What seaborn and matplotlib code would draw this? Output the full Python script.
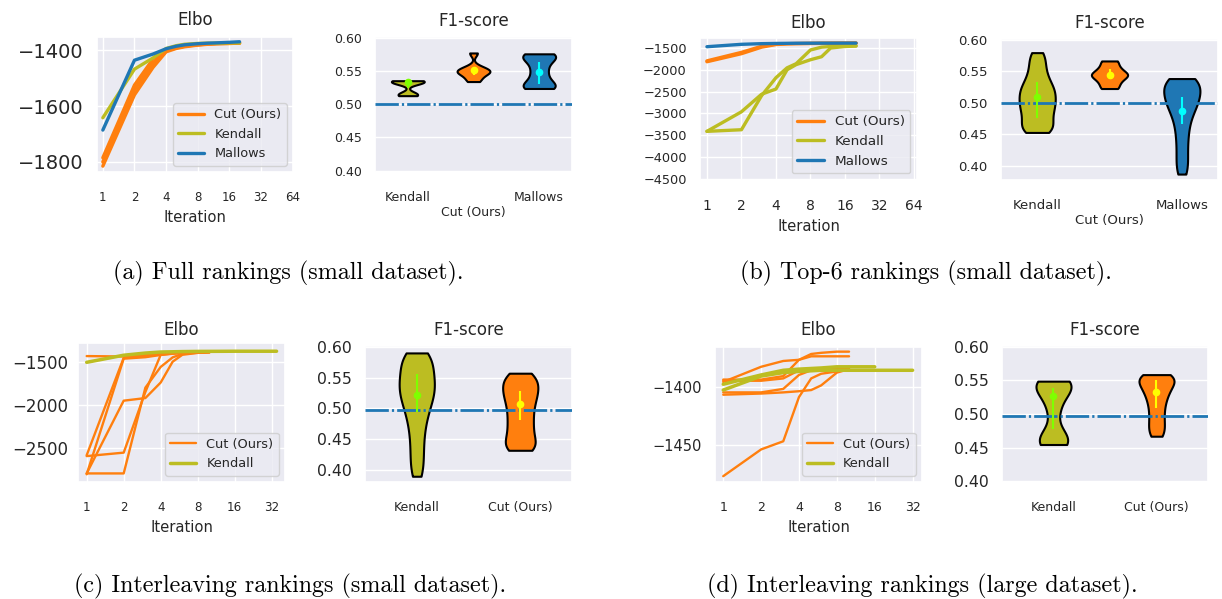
import numpy as np
import pandas as pd
import matplotlib
matplotlib.use("Agg")
import matplotlib.pyplot as plt
import seaborn as sns

# ---------------- data ----------------
METHODS = ["Cut (Ours)", "Kendall", "Mallows"]
F1_ORDER_3 = ["Kendall", "Cut (Ours)", "Mallows"]
F1_ORDER_2 = ["Kendall", "Cut (Ours)"]

iter_ticks = [1, 2, 4, 8, 16, 32, 64]
iter_tick_labels = ["1", "2", "4", "8", "16", "32", "64"]
iter_ticks_32 = [1, 2, 4, 8, 16, 32]
iter_tick_labels_32 = ["1", "2", "4", "8", "16", "32"]

# (a) Full rankings, small dataset
iters_a = [1, 2, 3, 4, 5, 6, 8, 10, 12, 16, 20]
elbo_a_cut_1 = [-1815, -1560, -1462, -1406, -1394, -1388, -1382, -1379, -1377, -1376, -1375]
elbo_a_cut_2 = [-1800, -1542, -1447, -1402, -1392, -1386, -1381, -1378, -1377, -1376, -1375]
elbo_a_cut_3 = [-1785, -1525, -1432, -1398, -1390, -1385, -1380, -1378, -1376, -1375, -1374]
elbo_a_kendall = [-1642, -1468, -1428, -1394, -1384, -1379, -1376, -1375, -1375, -1374, -1374]
elbo_a_mallows = [-1686, -1436, -1414, -1395, -1386, -1381, -1377, -1375, -1374, -1372, -1370]
yticks_a = [-1800, -1600, -1400]
ytick_labels_a = ["\u22121800", "\u22121600", "\u22121400"]

f1_a_kendall = [0.5353, 0.535, 0.534, 0.533, 0.532, 0.516, 0.514, 0.5128]
f1_a_cut = [0.577, 0.556, 0.552, 0.550, 0.548, 0.546, 0.540, 0.534]
f1_a_mallows = [0.5757, 0.574, 0.571, 0.565, 0.555, 0.545, 0.535, 0.528, 0.525, 0.5236]
f1_a_center = [0.533, 0.5518, 0.549]
f1_a_low = [0.524, 0.5435, 0.530]
f1_a_high = [0.536, 0.556, 0.5635]

# (b) Top-6 rankings, small dataset
iters_b = [1, 2, 3, 4, 5, 6, 8, 10, 12, 16, 20]
elbo_b_cut_1 = [-1815, -1630, -1480, -1420, -1405, -1400, -1396, -1394, -1392, -1390, -1388]
elbo_b_cut_2 = [-1795, -1600, -1460, -1410, -1400, -1396, -1393, -1391, -1390, -1389, -1388]
elbo_b_kendall_1 = [-3413, -3376, -2592, -2182, -1955, -1860, -1545, -1480, -1465, -1455, -1450]
elbo_b_kendall_2 = [-3413, -2964, -2560, -2442, -2000, -1881, -1769, -1700, -1500, -1465, -1455]
elbo_b_mallows = [-1470, -1415, -1400, -1395, -1392, -1390, -1389, -1388, -1388, -1387, -1387]
yticks_b = [-4500, -4000, -3500, -3000, -2500, -2000, -1500]
ytick_labels_b = ["\u22124500", "\u22124000", "\u22123500", "\u22123000", "\u22122500", "\u22122000", "\u22121500"]

f1_b_kendall = [0.5794, 0.571, 0.562, 0.553, 0.545, 0.538, 0.532, 0.527, 0.523, 0.519, 0.515, 0.511,
                0.507, 0.503, 0.499, 0.495, 0.491, 0.487, 0.482, 0.477, 0.472, 0.467, 0.462, 0.458,
                0.455, 0.4529]
f1_b_cut = [0.5662, 0.556, 0.548, 0.544, 0.540, 0.532, 0.5225]
f1_b_mallows = [0.5383, 0.537, 0.535, 0.532, 0.528, 0.524, 0.520, 0.516, 0.512, 0.508, 0.504, 0.500,
                0.496, 0.491, 0.485, 0.478, 0.470, 0.460, 0.449, 0.437, 0.424, 0.411, 0.399, 0.3869]
f1_b_center = [0.5092, 0.5445, 0.487]
f1_b_low = [0.475, 0.538, 0.466]
f1_b_high = [0.533, 0.554, 0.509]

# (c) Interleaving rankings, small dataset
iters_c_cut = [1, 2, 3, 4, 5, 6, 8, 10]
elbo_c_cut_1 = [-1435, -1440, -1420, -1402, -1396, -1393, -1390, -1388]
elbo_c_cut_2 = [-2580, -1455, -1440, -1412, -1402, -1396, -1391, -1388]
elbo_c_cut_3 = [-2800, -1465, -1448, -1422, -1408, -1398, -1392, -1389]
elbo_c_cut_4 = [-2790, -1950, -1920, -1740, -1500, -1420, -1398, -1390]
elbo_c_cut_5 = [-2790, -2790, -1800, -1560, -1450, -1410, -1396, -1390]
elbo_c_cut_6 = [-2590, -2550, -1850, -1420, -1405, -1398, -1392, -1389]
iters_c_kendall = [1, 2, 3, 4, 6, 8, 12, 16, 24, 35]
elbo_c_kendall = [-1507, -1425, -1400, -1388, -1383, -1381, -1380, -1379, -1379, -1379]
yticks_c = [-2500, -2000, -1500]
ytick_labels_c = ["\u22122500", "\u22122000", "\u22121500"]

f1_c_kendall = [0.5898, 0.587, 0.583, 0.577, 0.571, 0.565, 0.559, 0.553, 0.548, 0.543, 0.538, 0.533,
                0.528, 0.523, 0.518, 0.512, 0.506, 0.499, 0.491, 0.482, 0.472, 0.460, 0.447, 0.433,
                0.419, 0.405, 0.3903]
f1_c_cut = [0.557, 0.553, 0.548, 0.543, 0.538, 0.533, 0.528, 0.523, 0.518, 0.512, 0.506, 0.499,
            0.492, 0.485, 0.478, 0.471, 0.464, 0.457, 0.450, 0.444, 0.438, 0.435, 0.4323]
f1_c_center = [0.521, 0.5075]
f1_c_low = [0.4945, 0.482]
f1_c_high = [0.555, 0.529]

# (d) Interleaving rankings, large dataset
iters_d_cut = [1, 2, 3, 4, 5, 6, 8, 10]
elbo_d_cut_1 = [-1396, -1383, -1378, -1377, -1372, -1371, -1370, -1370]
elbo_d_cut_2 = [-1394, -1394, -1391, -1377, -1374, -1374, -1374, -1374]
elbo_d_cut_3 = [-1395, -1395, -1393, -1386, -1385, -1385, -1384, -1384]
elbo_d_cut_4 = [-1405, -1405, -1402, -1390, -1386, -1386, -1386, -1385]
elbo_d_cut_5 = [-1407, -1406, -1405, -1404, -1403, -1399, -1388, -1385]
elbo_d_cut_6 = [-1477, -1454, -1447, -1409, -1393, -1389, -1387, -1383]
iters_d_kendall_1 = [1, 2, 3, 4, 6, 8, 12, 16]
elbo_d_kendall_1 = [-1398, -1390, -1386, -1385, -1384, -1383, -1383, -1383]
iters_d_kendall_2 = [1, 2, 3, 4, 6, 8, 12, 16, 24, 32]
elbo_d_kendall_2 = [-1403, -1391, -1388, -1387, -1386, -1386, -1386, -1386, -1386, -1386]
yticks_d = [-1450, -1400]
ytick_labels_d = ["\u22121450", "\u22121400"]

f1_d_kendall = [0.5488, 0.547, 0.543, 0.536, 0.525, 0.505, 0.475, 0.462, 0.456, 0.4547]
f1_d_cut = [0.5585, 0.557, 0.555, 0.552, 0.549, 0.545, 0.541, 0.536, 0.531, 0.525, 0.518, 0.510,
            0.501, 0.492, 0.483, 0.475, 0.467]
f1_d_center = [0.5264, 0.533]
f1_d_low = [0.4775, 0.5085]
f1_d_high = [0.539, 0.550]

f1_yticks = [0.40, 0.45, 0.50, 0.55, 0.60]
f1_ytick_labels = ["0.40", "0.45", "0.50", "0.55", "0.60"]
baseline_ab = 0.50
baseline_cd = 0.497

captions = ["(a) Full rankings (small dataset).",
            "(b) Top-6 rankings (small dataset).",
            "(c) Interleaving rankings (small dataset).",
            "(d) Interleaving rankings (large dataset)."]

# ---------------- style ----------------
sns.set_theme(style="darkgrid")
plt.rcParams['font.family'] = ['DejaVu Sans']

COLORS = {"Cut (Ours)": "#ff7f0e", "Kendall": "#bcbd22", "Mallows": "#1f77b4"}
INNER = {"Cut (Ours)": "#ffff00", "Kendall": "#7fff00", "Mallows": "#00ffff"}

W, H = 1222, 599
fig = plt.figure(figsize=(W / 100, H / 100), dpi=100)


def px_axes(x0, y0, x1, y1):
    return fig.add_axes([x0 / W, 1 - y1 / H, (x1 - x0) / W, (y1 - y0) / H])


def elbo_panel(ax, runs, xlim, ylim, yticks, ylabels, xticks, xlabels,
               yfs, xfs, title_pad=8, legend_fs=9.3):
    seen = set()
    for method, its, vals, lw in runs:
        lab = method if method not in seen else None
        seen.add(method)
        sns.lineplot(x=its, y=vals, color=COLORS[method], lw=lw, label=lab,
                     estimator=None, errorbar=None, sort=False, ax=ax)
    ax.set_xscale('log', base=2)
    ax.set_xticks(xticks)
    ax.set_xticklabels(xlabels, fontsize=xfs)
    ax.set_xlim(*xlim)
    ax.set_yticks(yticks)
    ax.set_yticklabels(ylabels, fontsize=yfs)
    ax.set_ylim(*ylim)
    ax.tick_params(axis="x", pad=8)
    ax.set_xlabel("Iteration", fontsize=10.6)
    ax.set_ylabel("")
    ax.set_title("Elbo", fontsize=12, pad=title_pad)
    ax.legend(loc="lower right", fontsize=legend_fs)


def f1_panel(ax, order, samples, centers, lows, highs, baseline, ylim, width,
             bw, yfs, xfs, stagger):
    names, vals = [], []
    for m, s in zip(order, samples):
        names += [m] * len(s)
        vals += list(s)
    df = pd.DataFrame({"method": names, "f1": vals})
    sns.violinplot(data=df, x="method", y="f1", hue="method", order=order,
                   hue_order=order, palette=COLORS, cut=0, inner=None,
                   width=width, linewidth=1.5, linecolor="black",
                   density_norm="width", bw_adjust=bw, saturation=1,
                   legend=False, ax=ax)
    ax.axhline(baseline, color="#1f77b4", lw=2, ls=(0, (8.4, 1.1, 0.8, 1.1)), zorder=3)
    for i, m in enumerate(order):
        ax.vlines(i, lows[i], highs[i], color=INNER[m], lw=1.5, zorder=4)
        ax.plot([i], [centers[i]], "o", color=INNER[m], ms=4.5, zorder=5)
    ax.set_yticks(f1_yticks)
    ax.set_yticklabels(f1_ytick_labels, fontsize=yfs)
    ax.set_ylim(*ylim)
    ax.set_xlim(-0.5, len(order) - 0.5)
    labels = [("\n" + m) if (stagger and m == "Cut (Ours)") else m for m in order]
    ax.set_xticks(range(len(order)))
    ax.set_xticklabels(labels, fontsize=xfs)
    ax.tick_params(axis="x", pad=8)
    ax.set_xlabel("")
    ax.set_ylabel("")
    ax.set_title("F1-score", fontsize=12, pad=8)


# ---- (a)
ax = px_axes(97, 37, 293, 172)
elbo_panel(ax, [("Cut (Ours)", iters_a, elbo_a_cut_1, 2.4),
                ("Cut (Ours)", iters_a, elbo_a_cut_2, 2.4),
                ("Cut (Ours)", iters_a, elbo_a_cut_3, 2.4),
                ("Kendall", iters_a, elbo_a_kendall, 2.4),
                ("Mallows", iters_a, elbo_a_mallows, 2.4)],
           (0.88, 64.5), (-1836, -1353), yticks_a, ytick_labels_a,
           iter_ticks, iter_tick_labels, 14, 8.5, title_pad=8.5)
ax = px_axes(375, 37, 572, 172)
f1_panel(ax, F1_ORDER_3, [f1_a_kendall, f1_a_cut, f1_a_mallows],
         f1_a_center, f1_a_low, f1_a_high, baseline_ab, (0.398, 0.601), 0.5,
         0.6, 9, 9, True)

# ---- (b)
ax = px_axes(700, 38, 917, 180)
elbo_panel(ax, [("Cut (Ours)", iters_b, elbo_b_cut_1, 2.4),
                ("Cut (Ours)", iters_b, elbo_b_cut_2, 2.4),
                ("Kendall", iters_b, elbo_b_kendall_1, 2.4),
                ("Kendall", iters_b, elbo_b_kendall_2, 2.4),
                ("Mallows", iters_b, elbo_b_mallows, 2.4)],
           (0.87, 68), (-4530, -1270), yticks_b, ytick_labels_b,
           iter_ticks, iter_tick_labels, 9.3, 10, title_pad=7.5, legend_fs=9.7)
ax = px_axes(1001, 39, 1218, 180)
f1_panel(ax, F1_ORDER_3, [f1_b_kendall, f1_b_cut, f1_b_mallows],
         f1_b_center, f1_b_low, f1_b_high, baseline_ab, (0.3775, 0.601), 0.5,
         0.6, 9.5, 9.5, True)

# ---- (c)
ax = px_axes(78, 343, 285, 482)
elbo_panel(ax, [("Cut (Ours)", iters_c_cut, elbo_c_cut_1, 1.7),
                ("Cut (Ours)", iters_c_cut, elbo_c_cut_2, 1.7),
                ("Cut (Ours)", iters_c_cut, elbo_c_cut_3, 1.7),
                ("Cut (Ours)", iters_c_cut, elbo_c_cut_4, 1.7),
                ("Cut (Ours)", iters_c_cut, elbo_c_cut_5, 1.7),
                ("Cut (Ours)", iters_c_cut, elbo_c_cut_6, 1.7),
                ("Kendall", iters_c_kendall, elbo_c_kendall, 2.5)],
           (0.85, 41), (-2889, -1284), yticks_c, ytick_labels_c,
           iter_ticks_32, iter_tick_labels_32, 12, 8.6, title_pad=6)
ax.tick_params(axis="y", pad=1)
ax = px_axes(365, 346, 572, 482)
f1_panel(ax, F1_ORDER_2, [f1_c_kendall, f1_c_cut],
         f1_c_center, f1_c_low, f1_c_high, baseline_cd, (0.381, 0.601), 0.34,
         0.6, 11.3, 9, False)

# ---- (d)
ax = px_axes(715, 347, 922, 482)
elbo_panel(ax, [("Cut (Ours)", iters_d_cut, elbo_d_cut_1, 1.7),
                ("Cut (Ours)", iters_d_cut, elbo_d_cut_2, 1.7),
                ("Cut (Ours)", iters_d_cut, elbo_d_cut_3, 1.7),
                ("Cut (Ours)", iters_d_cut, elbo_d_cut_4, 1.7),
                ("Cut (Ours)", iters_d_cut, elbo_d_cut_5, 1.7),
                ("Cut (Ours)", iters_d_cut, elbo_d_cut_6, 1.7),
                ("Kendall", iters_d_kendall_1, elbo_d_kendall_1, 2.5),
                ("Kendall", iters_d_kendall_2, elbo_d_kendall_2, 2.5)],
           (0.86, 38), (-1482, -1366), yticks_d, ytick_labels_d,
           iter_ticks_32, iter_tick_labels_32, 10.5, 9, title_pad=8.5)
ax = px_axes(1002, 346, 1208, 482)
f1_panel(ax, F1_ORDER_2, [f1_d_kendall, f1_d_cut],
         f1_d_center, f1_d_low, f1_d_high, baseline_cd, (0.399, 0.601), 0.34,
         0.6, 11.3, 9, False)

# ---- captions
cap_pos = [(288, 279), (926, 279), (290, 592), (922, 592)]
for (cx, cy), txt in zip(cap_pos, captions):
    fig.text(cx / W, 1 - cy / H, txt, ha="center", va="baseline",
             fontsize=17.3, family="cmr10", color="black")

fig.savefig("out.png", dpi=100)
